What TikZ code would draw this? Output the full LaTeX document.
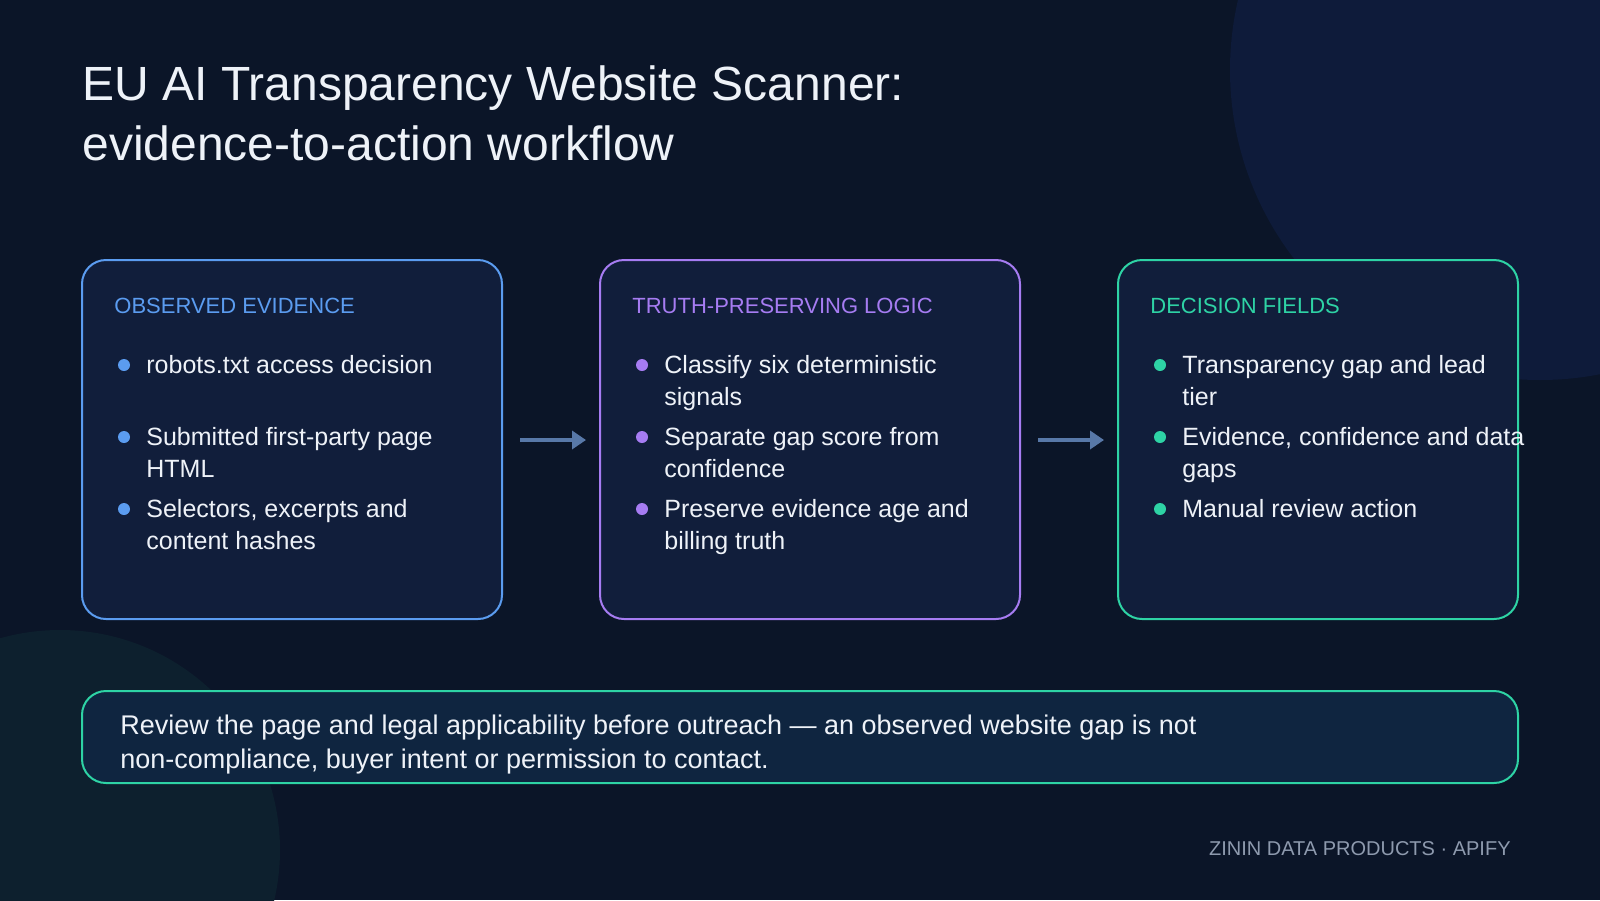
\documentclass[tikz,border=0pt]{standalone}
\usepackage{fontspec}
\setmainfont{Liberation Sans}
\usetikzlibrary{arrows.meta}
\definecolor{bg}{HTML}{0B1528}
\definecolor{boxfill}{HTML}{111E3B}
\definecolor{cblue}{HTML}{5B9CF0}
\definecolor{cpurp}{HTML}{A67CF2}
\definecolor{cteal}{HTML}{2ED3A5}
\definecolor{txt}{HTML}{EEF2F8}
\definecolor{arr}{HTML}{5878A8}
\definecolor{circA}{HTML}{0E1B3A}
\definecolor{circB}{HTML}{0D202E}
\definecolor{foot}{HTML}{8E9AAE}
\definecolor{notefill}{HTML}{0F2540}
\begin{document}
\begin{tikzpicture}[x=0.5pt,y=-0.5pt,
  card/.style={draw=#1,line width=1pt,rounded corners=12pt,fill=boxfill},
  head/.style={anchor=base west,text=#1,font=\fontsize{11}{13}\selectfont},
  line/.style={anchor=base west,text=txt,font=\fontsize{12.5}{14}\selectfont,inner sep=0},
  note/.style={anchor=base west,text=txt,font=\fontsize{13.5}{15}\selectfont,inner sep=0},
  dot/.style={circle,fill=#1,inner sep=0,minimum size=6pt},
  flow/.style={draw=arr,line width=1.8pt,-{Triangle[length=7pt,width=9pt]}}]
\useasboundingbox (0,0) rectangle (1600,900);
\fill[bg] (0,0) rectangle (1600,900);
\begin{scope}
\clip (0,0) rectangle (1600,900);
\fill[circA] (1540,70) circle (310);
\fill[circB] (60,850) circle (220);
\end{scope}
\node[anchor=base west,text=txt,font=\fontsize{24}{28}\selectfont,inner sep=0] (t1) at (82,100) {EU AI Transparency Website Scanner:};
\node[anchor=base west,text=txt,font=\fontsize{24}{28}\selectfont,inner sep=0] (t2) at (82,160) {evidence-to-action workflow};
% cards
\draw[card=cblue] (82,260) rectangle (502,619);
\draw[card=cpurp] (600,260) rectangle (1020,619);
\draw[card=cteal] (1118,260) rectangle (1518,619);
\node[head=cblue,inner sep=0] (h1) at (114,313) {OBSERVED EVIDENCE};
\node[head=cpurp,inner sep=0] (h2) at (632,313) {TRUTH-PRESERVING LOGIC};
\node[head=cteal,inner sep=0] (h3) at (1150,313) {DECISION FIELDS};
% box1
\node[dot=cblue] (d11) at (124,365) {};
\node[line] (a1) at (146,373) {robots.txt access decision};
\node[dot=cblue] (d12) at (124,437) {};
\node[line] (a2) at (146,445) {Submitted first-party page};
\node[line] (a3) at (146,477) {HTML};
\node[dot=cblue] (d13) at (124,509) {};
\node[line] (a4) at (146,517) {Selectors, excerpts and};
\node[line] (a5) at (146,549) {content hashes};
% box2
\node[dot=cpurp] (d21) at (642,365) {};
\node[line] (b1) at (664,373) {Classify six deterministic};
\node[line] (b2) at (664,405) {signals};
\node[dot=cpurp] (d22) at (642,437) {};
\node[line] (b3) at (664,445) {Separate gap score from};
\node[line] (b4) at (664,477) {confidence};
\node[dot=cpurp] (d23) at (642,509) {};
\node[line] (b5) at (664,517) {Preserve evidence age and};
\node[line] (b6) at (664,549) {billing truth};
% box3
\node[dot=cteal] (d31) at (1160,365) {};
\node[line] (c1) at (1182,373) {Transparency gap and lead};
\node[line] (c2) at (1182,405) {tier};
\node[dot=cteal] (d32) at (1160,437) {};
\node[line] (c3) at (1182,445) {Evidence, confidence and data};
\node[line] (c4) at (1182,477) {gaps};
\node[dot=cteal] (d33) at (1160,509) {};
\node[line] (c5) at (1182,517) {Manual review action};
% arrows
\coordinate (p1) at (520,440); \coordinate (p2) at (586,440);
\coordinate (q1) at (1038,440); \coordinate (q2) at (1104,440);
\draw[flow] (p1) -- (p2);
\draw[flow] (q1) -- (q2);
% bottom
\draw[card=cteal,fill=notefill] (82,691) rectangle (1518,783);
\node[note] (n1) at (120,734) {Review the page and legal applicability before outreach — an observed website gap is not};
\node[note] (n2) at (120,768) {non-compliance, buyer intent or permission to contact.};
\node[anchor=base east,inner sep=0,text=foot,font=\fontsize{10}{12}\selectfont] (f) at (1511,855) {ZININ DATA PRODUCTS · APIFY};
\end{tikzpicture}
\end{document}
